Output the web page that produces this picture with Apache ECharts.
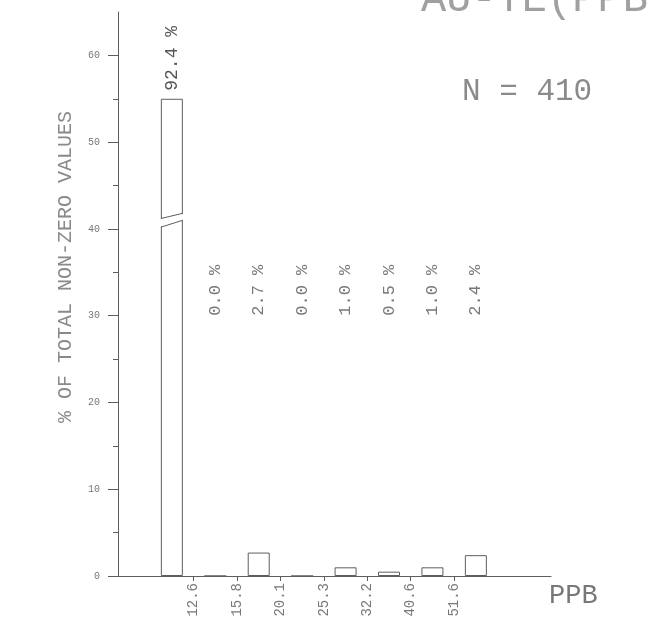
<!DOCTYPE html>
<html>
<head>
<meta charset="UTF-8">
<title>AU-TE (PPB) histogram</title>
<script src="https://cdn.jsdelivr.net/npm/echarts@6/dist/echarts.min.js"></script>
<style>
  html, body { margin: 0; padding: 0; background: #fff; }
  #chart { width: 648px; height: 634px; }
</style>
</head>
<body>
<div id="chart"></div>
<script>
  // bar centres sit halfway between class limits (limit k is at x = k)
  const binCenters = [0.5, 1.5, 2.5, 3.5, 4.5, 5.5, 6.5, 7.5];
  // heights as drawn; first bar is cut off at 55 (real value 92.4 %)
  const barHeights = [55, 0, 2.7, 0, 1.0, 0.5, 1.0, 2.4];
  const pctLabels = ['92.4 %', '0.0 %', '2.7 %', '0.0 %', '1.0 %', '0.5 %', '1.0 %', '2.4 %'];
  const classLimits = [1, 2, 3, 4, 5, 6, 7];
  const limitLabels = ['12.6', '15.8', '20.1', '25.3', '32.2', '40.6', '51.6'];
  const yMajor = [0, 10, 20, 30, 40, 50, 60];
  const yMinor = [5, 15, 25, 35, 45, 55];
  const labelLevel = 30;          // where the small-bar percentages start
  const breakLow = [40.2, 41.0];  // lower cut line (left, right)
  const breakHigh = [41.2, 41.8]; // upper cut line (left, right)

  const ink = '#5e5e5e';
  const mono = '"Liberation Mono", "DejaVu Sans Mono", monospace';

  const chart = echarts.init(document.getElementById('chart'));

  const barData = binCenters.map((x, i) => {
    const item = { value: [x, barHeights[i]] };
    if (i === 0) {
      item.label = {
        show: true,
        position: 'top',
        distance: 8,
        rotate: 90,
        align: 'left',
        verticalAlign: 'middle',
        formatter: pctLabels[0],
        fontFamily: mono,
        fontSize: 18,
        color: '#555'
      };
    }
    return item;
  });

  const smallLabels = binCenters.slice(1).map((x, i) => ({
    value: [x, labelLevel],
    name: pctLabels[i + 1]
  }));

  chart.setOption({
    animation: false,
    backgroundColor: '#fff',
    graphic: [
      {
        type: 'text', left: 421, top: -21,
        style: { text: 'AU-TE(PPB)', font: '42px ' + mono, fill: '#a0a0a0' }
      },
      {
        type: 'text', left: 462, top: 76,
        style: { text: 'N = 410', font: '31px ' + mono, fill: '#8a8a8a' }
      }
    ],
    grid: { left: 118, right: 97, top: 12, bottom: 58 },
    xAxis: {
      type: 'value',
      min: -0.74,
      max: 9.23,
      splitLine: { show: false },
      axisLine: { show: true, onZero: false, lineStyle: { color: ink, width: 1 } },
      axisTick: { show: true, customValues: classLimits, length: 5, lineStyle: { color: ink } },
      axisLabel: {
        customValues: classLimits,
        rotate: 90,
        margin: 7,
        fontFamily: mono,
        fontSize: 14,
        color: '#777',
        formatter: v => limitLabels[classLimits.indexOf(Math.round(v))] || ''
      },
      name: 'PPB',
      nameLocation: 'end',
      nameGap: -2,
      nameTextStyle: {
        fontFamily: mono, fontSize: 27, color: '#777',
        align: 'left', verticalAlign: 'top', padding: [6, 0, 0, 0]
      }
    },
    yAxis: [
      {
        type: 'value',
        min: 0,
        max: 65,
        position: 'left',
        splitLine: { show: false },
        axisLine: { show: true, onZero: false, lineStyle: { color: ink, width: 1 } },
        axisTick: { show: true, customValues: yMajor, length: 10, lineStyle: { color: ink } },
        axisLabel: {
          customValues: yMajor,
          margin: 18,
          fontFamily: mono,
          fontSize: 10,
          color: '#777'
        },
        name: '% OF TOTAL NON-ZERO VALUES',
        nameLocation: 'middle',
        nameGap: 42,
        nameTextStyle: {
          fontFamily: mono, fontSize: 20, color: '#8a8a8a',
          padding: [0, 0, 0, 54]
        }
      },
      {
        type: 'value',
        min: 0,
        max: 65,
        position: 'left',
        splitLine: { show: false },
        axisLine: { show: false, onZero: false },
        axisTick: { show: true, customValues: yMinor, length: 5, lineStyle: { color: ink } },
        axisLabel: { show: false }
      }
    ],
    series: [
      {
        type: 'bar',
        barWidth: 22,
        data: barData,
        itemStyle: { color: '#fff', borderColor: ink, borderWidth: 1 },
        label: { show: false },
        z: 2
      },
      {
        // cut marks on the first bar
        type: 'custom',
        z: 3,
        data: [[binCenters[0], 0]],
        renderItem: function (params, api) {
          const x = api.value(0);
          const half = 11;
          const c = api.coord([x, 0])[0];
          const l = c - half, r = c + half;
          const lowL = api.coord([x, breakLow[0]])[1];
          const lowR = api.coord([x, breakLow[1]])[1];
          const hiL = api.coord([x, breakHigh[0]])[1];
          const hiR = api.coord([x, breakHigh[1]])[1];
          return {
            type: 'group',
            children: [
              {
                type: 'polygon',
                shape: { points: [[l - 1, lowL - 0.5], [r + 1, lowR - 0.5], [r + 1, hiR + 0.5], [l - 1, hiL + 0.5]] },
                style: { fill: '#fff' }
              },
              {
                type: 'line',
                shape: { x1: l, y1: lowL, x2: r, y2: lowR },
                style: { stroke: ink, lineWidth: 1 }
              },
              {
                type: 'line',
                shape: { x1: l, y1: hiL, x2: r, y2: hiR },
                style: { stroke: ink, lineWidth: 1 }
              }
            ]
          };
        }
      },
      {
        type: 'scatter',
        symbolSize: 0,
        data: smallLabels,
        label: {
          show: true,
          position: 'top',
          distance: 0,
          rotate: 90,
          align: 'left',
          verticalAlign: 'middle',
          formatter: p => p.name,
          fontFamily: mono,
          fontSize: 17,
          color: '#555'
        },
        z: 4
      }
    ]
  });
</script>
</body>
</html>
